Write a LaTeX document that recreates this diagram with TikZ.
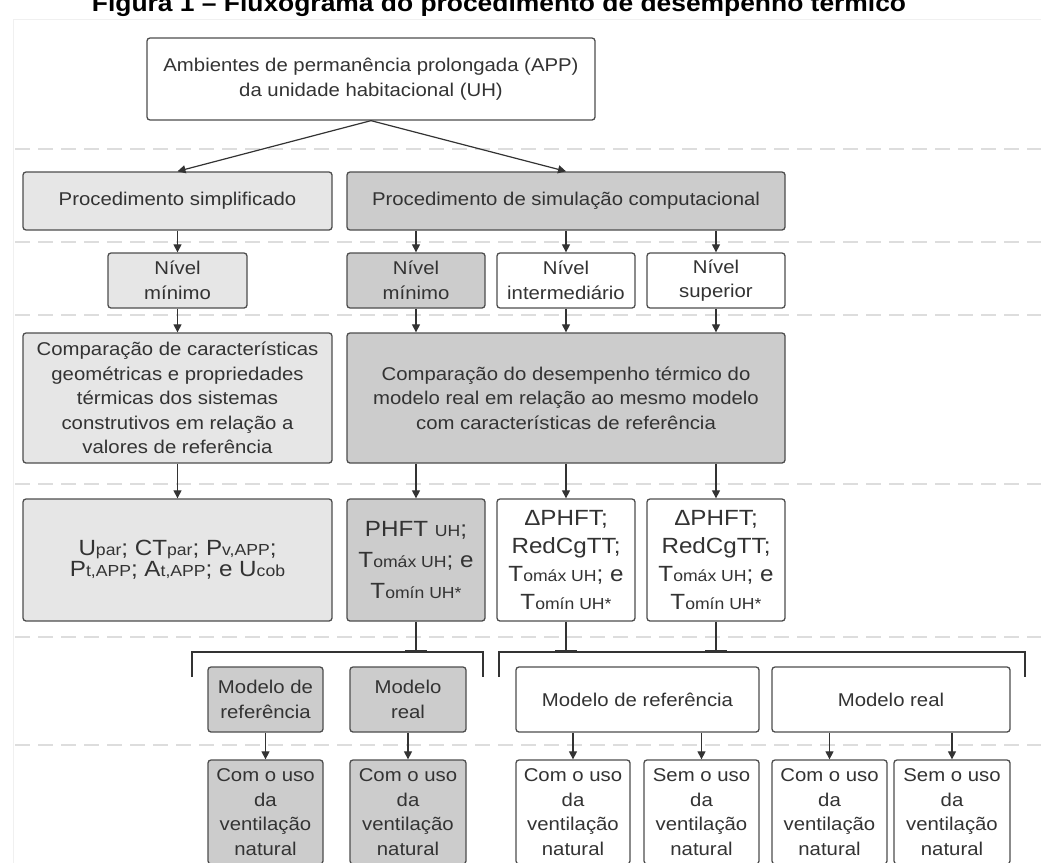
\documentclass[tikz,border=0pt]{standalone}
\usepackage{fontspec}
\setmainfont{Liberation Sans}[FakeStretch=1.1]
\usetikzlibrary{arrows.meta}
\definecolor{laneline}{HTML}{DDDDDD}
\definecolor{framegray}{HTML}{F0F0F0}
\definecolor{boxline}{HTML}{4D4D4D}
\definecolor{txt}{HTML}{333333}
\definecolor{litegray}{HTML}{E6E6E6}
\definecolor{midgray}{HTML}{CCCCCC}
\newcommand{\sm}[1]{{\fontsize{16}{16}\selectfont #1}}

\begin{document}
\begin{tikzpicture}[x=1pt,y=-1pt,>={Triangle[length=8pt,width=8pt]},font=\fontsize{18.5}{24.5}\selectfont]
\tikzset{
box/.style={draw=boxline,rounded corners=3pt,line width=1.3pt,align=center,text=txt,inner sep=0pt},
lite/.style={box,fill=litegray},
dark/.style={box,fill=midgray},
plain/.style={box,fill=white},
wh/.style 2 args={minimum width=#1pt,minimum height=#2pt},
big/.style={font=\fontsize{22}{28}\selectfont},
a/.style={->,line width=1.2pt,color=txt},
tee/.style={-{Bar[width=22pt,line width=2pt]},line width=1.2pt,color=txt},
br/.style={line width=1.2pt,color=txt},
lane/.style={laneline,line width=1.5pt,dash pattern=on 15pt off 8pt}}

\useasboundingbox (0,0) rectangle (1041,862);
\clip (0,0) rectangle (1041,862);

% swimlane frame and separators
\draw[framegray,line width=1pt] (13,880) |- (1060,19);
\foreach \y in {149,242,315,484,637,745}
  \draw[lane] (15,\y) -- (1041,\y);

\node[anchor=base,font=\bfseries\fontsize{24}{24}\selectfont] (title) at (499,11)
  {Figura 1 – Fluxograma do procedimento de desempenho térmico};

\node[plain,wh={448}{82}] (app) at (371,79) {Ambientes de permanência prolongada (APP)\\da unidade habitacional (UH)};
\node[lite,wh={309}{58}] (simp) at (177.5,201) {Procedimento simplificado};
\node[dark,wh={438}{58}] (sim) at (566,201) {Procedimento de simulação computacional};

\node[lite,wh={139}{55}] (nsmin) at (177.5,280.5) {Nível\\mínimo};
\node[dark,wh={138}{55}] (nmin) at (416,280.5) {Nível\\mínimo};
\node[plain,wh={138}{55}] (nint) at (566,280.5) {Nível\\intermediário};
\node[plain,wh={138}{55}] (nsup) at (716,280.5) {Nível\\superior};

\node[lite,wh={309}{130}] (csimp) at (177.5,398) {Comparação de características\\geométricas e propriedades\\térmicas dos sistemas\\construtivos em relação a\\valores de referência};
\node[dark,wh={438}{130}] (csim) at (566,398) {Comparação do desempenho térmico do\\modelo real em relação ao mesmo modelo\\com características de referência};

\node[lite,wh={309}{122},font=\fontsize{22}{21}\selectfont] (rsimp) at (177.5,560) {U\sm{par}; CT\sm{par}; P\sm{v,APP};\\P\sm{t,APP}; A\sm{t,APP}; e U\sm{cob}};
\node[dark,wh={138}{122},font=\fontsize{22}{31}\selectfont] (rmin) at (416,560) {PHFT \sm{UH};\\T\sm{omáx UH}; e\\T\sm{omín UH*}};
\node[plain,big,wh={138}{122}] (rint) at (566,560) {ΔPHFT;\\RedCgTT;\\T\sm{omáx UH}; e\\T\sm{omín UH*}};
\node[plain,big,wh={138}{122}] (rsup) at (716,560) {ΔPHFT;\\RedCgTT;\\T\sm{omáx UH}; e\\T\sm{omín UH*}};

% brackets under the results
\coordinate (bl1) at (192,677);
\coordinate (bl2) at (483,677);
\coordinate (br1) at (499,677);
\coordinate (br2) at (1025,677);
\coordinate (bt1) at (192,652);
\coordinate (bt2) at (499,652);
\draw[br] (bl1) -- ++(0,-25) -| (bl2);
\draw[br] (br1) -- ++(0,-25) -| (br2);

\node[dark,wh={115}{65}] (mref1) at (265.5,699.5) {Modelo de\\referência};
\node[dark,wh={116}{65}] (mreal1) at (408,699.5) {Modelo\\real};
\node[plain,wh={243}{65}] (mref2) at (637.5,699.5) {Modelo de referência};
\node[plain,wh={238}{65}] (mreal2) at (891,699.5) {Modelo real};

\node[dark,wh={115}{104}] (v1) at (265.5,812) {Com o uso\\da\\ventilação\\natural};
\node[dark,wh={116}{104}] (v2) at (408,812) {Com o uso\\da\\ventilação\\natural};
\node[plain,wh={114}{104}] (v3) at (573,812) {Com o uso\\da\\ventilação\\natural};
\node[plain,wh={115}{104}] (v4) at (701.5,812) {Sem o uso\\da\\ventilação\\natural};
\node[plain,wh={115}{104}] (v5) at (829.5,812) {Com o uso\\da\\ventilação\\natural};
\node[plain,wh={116}{104}] (v6) at (952,812) {Sem o uso\\da\\ventilação\\natural};

\draw[a] (app.south) -- (simp.north);
\draw[a] (app.south) -- (sim.north);
\draw[a] (simp) -- (nsmin);
\foreach \n in {nmin,nint,nsup}
  \draw[a] (sim.south -| \n) -- (\n);
\draw[a] (nsmin) -- (csimp);
\foreach \n in {nmin,nint,nsup}
  \draw[a] (\n) -- (\n |- csim.north);
\draw[a] (csimp) -- (rsimp);
\foreach \n in {rmin,rint,rsup}
  \draw[a] (csim.south -| \n) -- (\n);
\draw[tee] (rmin) -- (rmin |- bt1);
\draw[tee] (rint) -- (rint |- bt2);
\draw[tee] (rsup) -- (rsup |- bt2);
\draw[a] (mref1) -- (v1);
\draw[a] (mreal1) -- (v2);
\foreach \n in {v3,v4}
  \draw[a] (mref2.south -| \n) -- (\n);
\foreach \n in {v5,v6}
  \draw[a] (mreal2.south -| \n) -- (\n);
\end{tikzpicture}
\end{document}
